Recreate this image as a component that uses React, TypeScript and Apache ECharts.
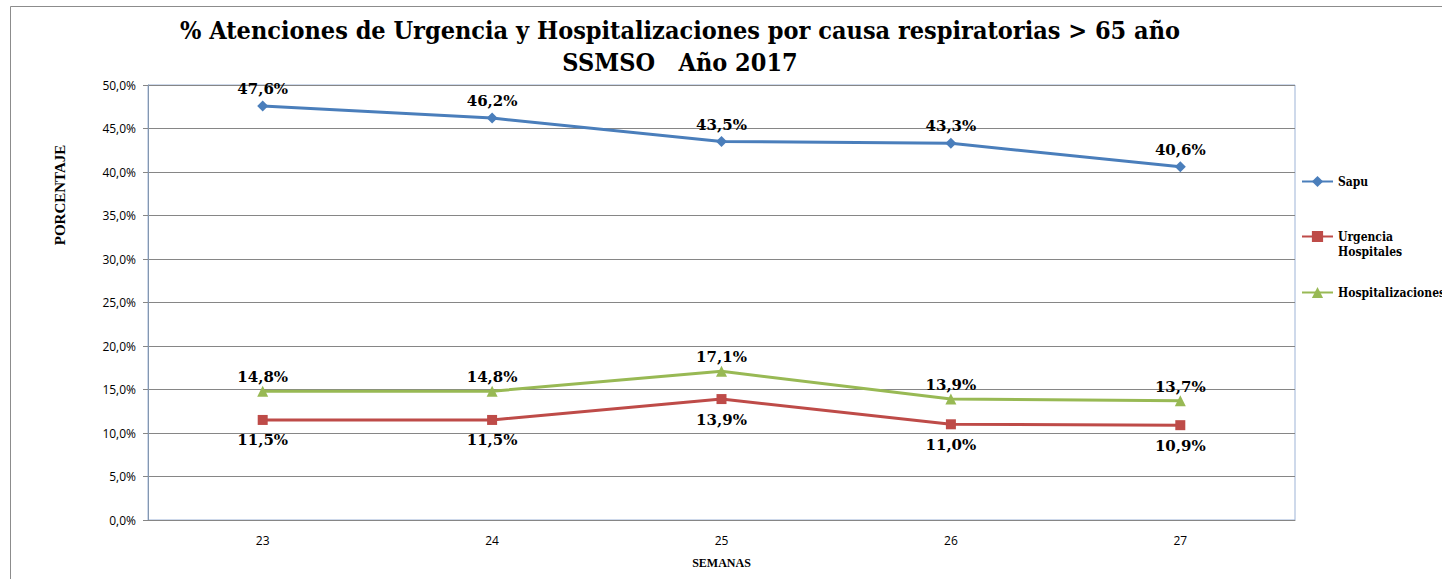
import React, { useEffect, useRef } from "react";
import * as echarts from "echarts";

const categories = ["23", "24", "25", "26", "27"];
const sapu = [47.6, 46.2, 43.5, 43.3, 40.6];
const urgencia = [11.5, 11.5, 13.9, 11.0, 10.9];
const hospitalizaciones = [14.8, 14.8, 17.1, 13.9, 13.7];

const SERIF = "'DejaVu Serif', 'Liberation Serif', serif";
const SERIF_C = "'DejaVu Serif Condensed', 'DejaVu Serif', serif";
const SANS = "'Open Sans', 'Liberation Sans', sans-serif";

const fmt = (v: number) => v.toFixed(1).replace(".", ",") + "%";

export default function App() {
  const ref = useRef<HTMLDivElement>(null);
  useEffect(() => {
    if (!ref.current) return;
    const chart = echarts.init(ref.current, undefined, { renderer: "svg" });
    const labelStyle = {
      show: true,
      fontFamily: SERIF,
      fontWeight: "bold" as const,
      fontSize: 15,
      color: "#000",
      formatter: (p: any) => fmt(p.value),
    };
    const legendText = { fontFamily: SERIF_C, fontWeight: "bold" as const, fontSize: 12, lineHeight: 15, color: "#000" };
    const legendBase = { left: 1301, itemWidth: 31, itemHeight: 14, padding: 0, textStyle: legendText };
    chart.setOption({
      animation: false,
      backgroundColor: "#fff",
      title: {
        text: "% Atenciones de Urgencia y Hospitalizaciones por causa respiratorias > 65 año\nSSMSO   Año 2017",
        left: 675,
        top: 9,
        textAlign: "center",
        textStyle: { fontFamily: SERIF_C, fontWeight: "bold", fontSize: 25, lineHeight: 32, color: "#000" },
      },
      graphic: [
        {
          type: "polyline",
          shape: { points: [[10.5, 600], [10.5, 6.5], [1460, 6.5]] },
          style: { stroke: "#8c8c8c", lineWidth: 1, fill: "none" },
        },
        {
          type: "text",
          x: 60,
          y: 195,
          rotation: Math.PI / 2,
          style: {
            text: "PORCENTAJE",
            fontFamily: "'Liberation Serif', serif",
            fontWeight: "bold",
            fontSize: 15,
            fill: "#000",
            align: "center",
            verticalAlign: "middle",
          },
        },
      ],
      legend: [
        { ...legendBase, data: ["Sapu"], top: 174 },
        {
          ...legendBase,
          data: ["Urgencia Hospitales"],
          top: 214,
          formatter: () => " \nUrgencia\nHospitales",
        },
        { ...legendBase, data: ["Hospitalizaciones"], top: 285 },
      ],
      grid: {
        left: 148,
        top: 85,
        width: 1147,
        height: 435,
        show: true,
        borderColor: "#9db3d6",
        borderWidth: 1,
      },
      xAxis: {
        type: "category",
        data: categories,
        boundaryGap: true,
        name: "SEMANAS",
        nameLocation: "middle",
        nameGap: 37,
        nameTextStyle: { fontFamily: "'Liberation Serif', serif", fontWeight: "bold", fontSize: 12, color: "#000" },
        axisLine: { lineStyle: { color: "#868686" } },
        axisTick: { show: false },
        axisLabel: { fontFamily: SANS, fontSize: 12, color: "#000", margin: 14 },
      },
      yAxis: {
        type: "value",
        min: 0,
        max: 50,
        interval: 5,
        axisLine: { show: true, lineStyle: { color: "#8497b0" } },
        axisTick: { show: true, length: 5, lineStyle: { color: "#868686" } },
        splitLine: { lineStyle: { color: "#868686" } },
        axisLabel: {
          fontFamily: SANS,
          fontSize: 12,
          color: "#000",
          margin: 12,
          formatter: (v: number) => fmt(v),
        },
      },
      series: [
        {
          name: "Sapu",
          type: "line",
          data: sapu,
          symbol: "diamond",
          symbolSize: 11,
          lineStyle: { color: "#4a7ebb", width: 3 },
          itemStyle: { color: "#4a7ebb" },
          label: { ...labelStyle, position: "top", distance: 4 },
        },
        {
          name: "Urgencia Hospitales",
          type: "line",
          data: urgencia,
          symbol: "rect",
          symbolSize: 10,
          lineStyle: { color: "#be4b48", width: 3 },
          itemStyle: { color: "#be4b48" },
          label: { ...labelStyle, position: "bottom", distance: 8 },
        },
        {
          name: "Hospitalizaciones",
          type: "line",
          data: hospitalizaciones,
          symbol: "triangle",
          symbolSize: 11,
          lineStyle: { color: "#98b954", width: 3 },
          itemStyle: { color: "#98b954" },
          label: { ...labelStyle, position: "top", distance: 1 },
        },
      ],
    });
    return () => chart.dispose();
  }, []);
  return (
    <div
      ref={ref}
      style={{ position: "fixed", left: 0, top: 0, width: 1442, height: 579 }}
    />
  );
}
